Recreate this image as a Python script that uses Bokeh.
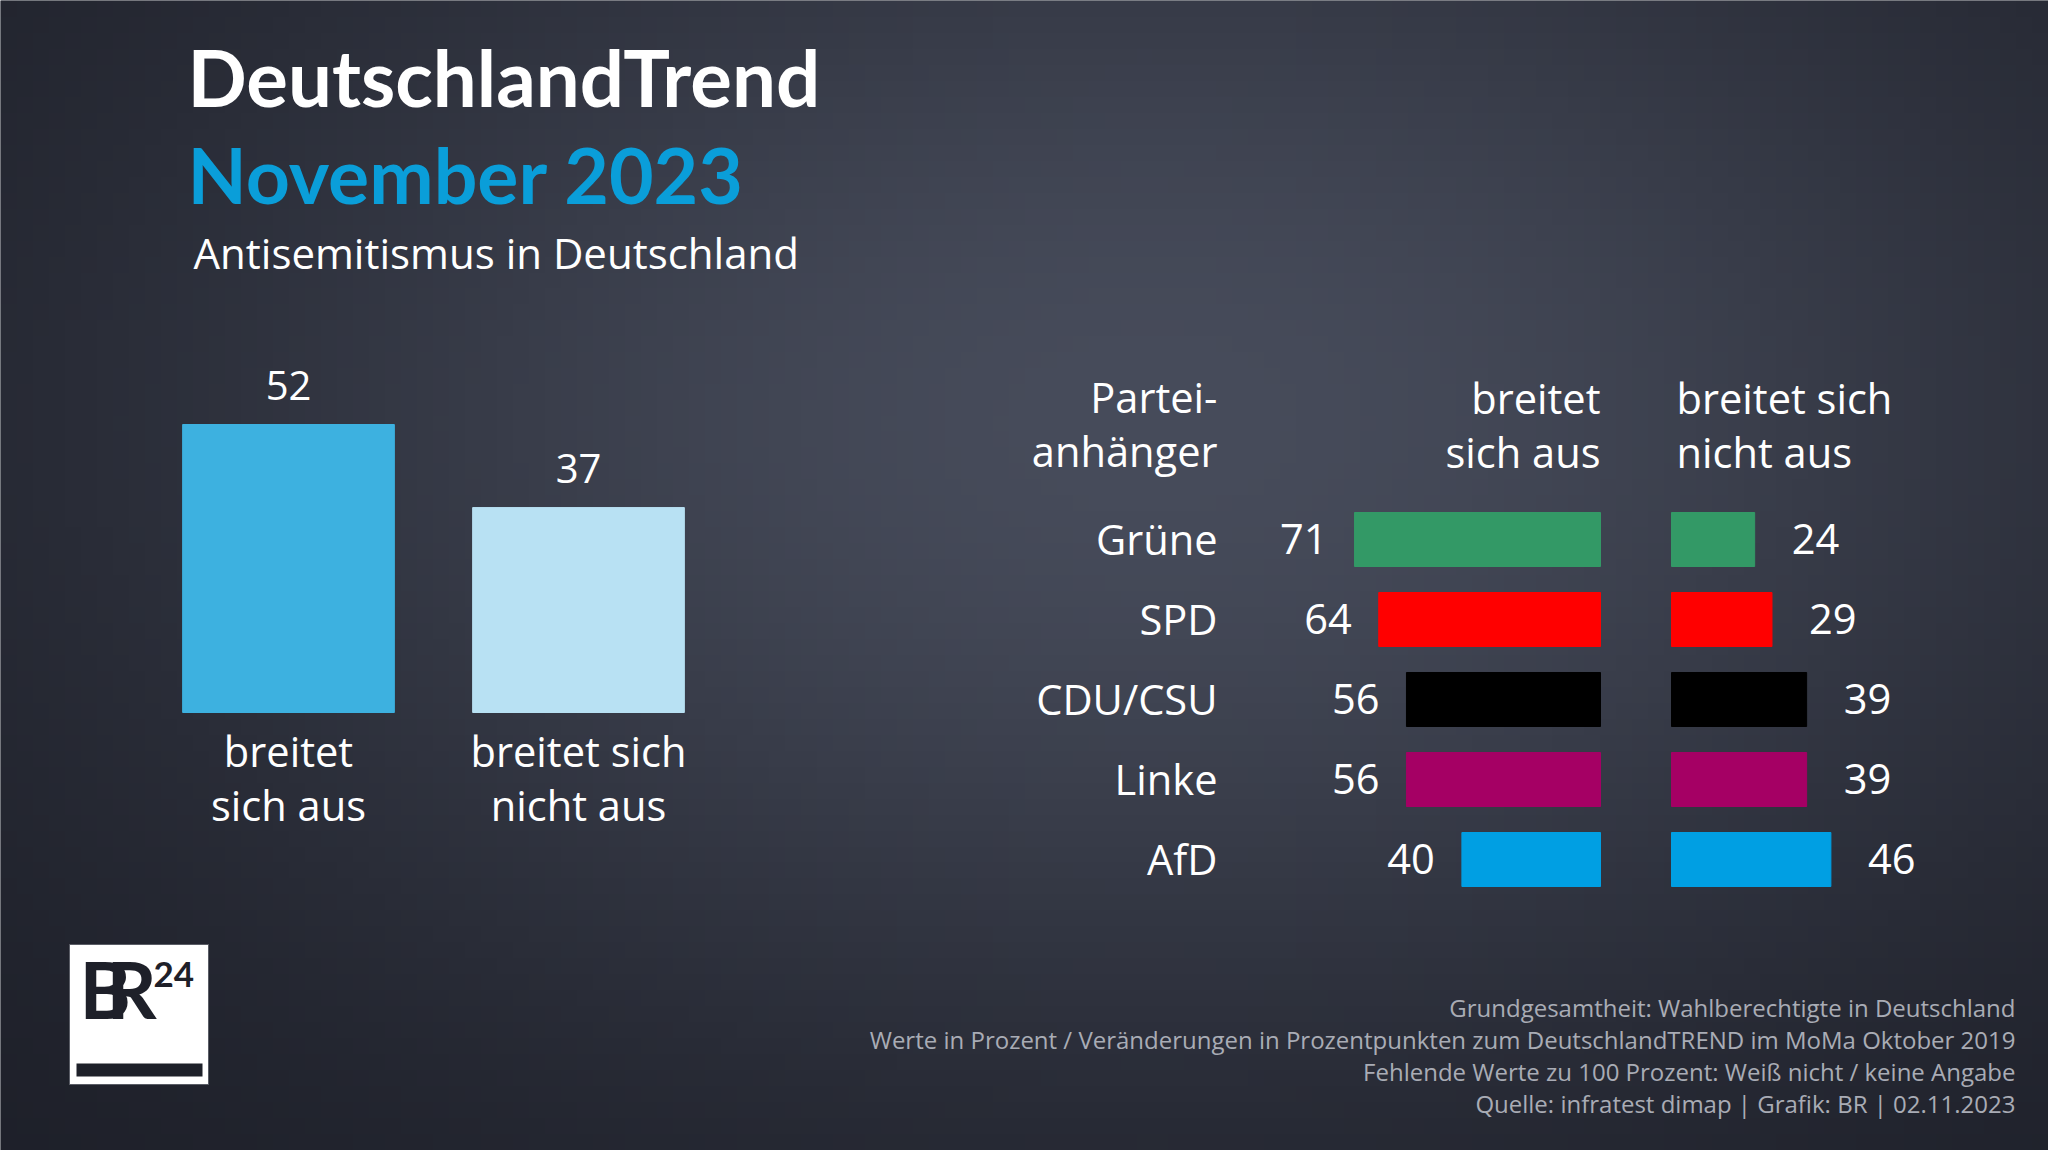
import numpy as np
from bokeh.plotting import figure
from bokeh.models import Range1d, ColumnDataSource
from bokeh.core.properties import value
from bokeh.embed import file_html
from bokeh.resources import INLINE

# ---------------- data ----------------
title = "DeutschlandTrend"
subtitle = "November 2023"
topic = "Antisemitismus in Deutschland"

overall_categories = ["breitet\nsich aus", "breitet sich\nnicht aus"]
overall_values = [52, 37]
overall_colors = ["#3db1e0", "#b8e1f3"]

parties = ["Grüne", "SPD", "CDU/CSU", "Linke", "AfD"]
spreads = [71, 64, 56, 56, 40]
not_spreads = [24, 29, 39, 39, 46]
party_colors = ["#339966", "#ff0000", "#000000", "#a50064", "#009fe3"]

party_header = "Partei-\nanhänger"
col_header_left = "breitet\nsich aus"
col_header_right = "breitet sich\nnicht aus"

footer_lines = [
    "Grundgesamtheit: Wahlberechtigte in Deutschland",
    "Werte in Prozent / Veränderungen in Prozentpunkten zum DeutschlandTREND im MoMa Oktober 2019",
    "Fehlende Werte zu 100 Prozent: Weiß nicht / keine Angabe",
    "Quelle: infratest dimap | Grafik: BR | 02.11.2023",
]

BOLD_FONT = "Lato"
FONT = "Open Sans"
WHITE = "#ffffff"
K = 0.37  # baseline correction (fraction of font size)

# ---------------- figure ----------------
W, H = 2048, 1150
p = figure(width=W, height=H, x_range=Range1d(0, W), y_range=Range1d(0, H),
           output_backend="svg", toolbar_location=None, min_border=0,
           x_axis_type=None, y_axis_type=None)
p.grid.visible = False
p.outline_line_color = None
p.background_fill_color = "#262a35"
p.border_fill_color = "#262a35"


def Y(page_y):
    return H - page_y


def BL(page_y, fs):
    """data y for a text whose alphabetic baseline should sit at page_y"""
    return Y(page_y - K * fs)


# background gradient (styling only)
gh, gw = 72, 128
gx = np.linspace(0, W, gw)
gy = np.linspace(H, 0, gh)  # row 0 = bottom
XX, YY = np.meshgrid(gx, gy)
d2 = ((XX - 1150) / 1150.0) ** 2 + ((YY - 420) / 720.0) ** 2
t = np.exp(-1.25 * d2)
light = np.array([0x47, 0x4c, 0x5b], dtype=float)
dark = np.array([0x1b, 0x1d, 0x26], dtype=float)
img = np.empty((gh, gw), dtype=np.uint32)
view = img.view(dtype=np.uint8).reshape((gh, gw, 4))
for k in range(3):
    view[:, :, k] = (dark[k] + (light[k] - dark[k]) * t).astype(np.uint8)
view[:, :, 3] = 255
p.image_rgba(image=[img], x=0, y=0, dw=W, dh=H)

# ---------------- scales ----------------
LPX = 288.0 / 52.0          # px per percent, left column chart
LBASE = 712                 # page y of zero line
LX0, LDX = 288.0, 290.0     # page x of first category, spacing
RPX = 3.465                 # px per percent, party bars
RL0, RR0 = 1600.0, 1671.0   # zero lines of the two bar groups
ROW0, ROWD = 539.0, 80.0    # first row centre, row spacing

p.extra_y_ranges = {
    "lv": Range1d((LBASE - H) / LPX, LBASE / LPX),
    "rows": Range1d((H - ROW0) / ROWD, (0 - ROW0) / ROWD),
}
p.extra_x_ranges = {
    "lx": Range1d((0 - LX0) / LDX, (W - LX0) / LDX),
    "rl": Range1d(RL0 / RPX, (RL0 - W) / RPX),
    "rr": Range1d((0 - RR0) / RPX, (W - RR0) / RPX),
}

# ---------------- titles ----------------
p.text(x=[187], y=[BL(105, 78)], text=[title], text_font=value(BOLD_FONT), text_font_style="bold",
       text_font_size="78px", text_color=WHITE, text_baseline="alphabetic")
p.text(x=[187], y=[BL(202, 77)], text=[subtitle], text_font=value(BOLD_FONT), text_font_style="bold",
       text_font_size="77px", text_color="#0a9ed9", text_baseline="alphabetic")
p.text(x=[193], y=[BL(268, 42)], text=[topic], text_font=value(FONT),
       text_font_size="42px", text_color=WHITE, text_baseline="alphabetic")

# ---------------- left column chart ----------------
FS = 41.6
idx = list(range(len(overall_values)))
lsrc = ColumnDataSource(dict(
    x=idx, top=overall_values, color=overall_colors,
    lab=[str(v) for v in overall_values],
    l1=[c.split("\n")[0] for c in overall_categories],
    l2=[c.split("\n")[1] for c in overall_categories],
    y1=[BL(766, FS)] * len(idx), y2=[BL(820, FS)] * len(idx),
))
p.vbar(x="x", top="top", bottom=0, width=0.73, color="color", source=lsrc,
       x_range_name="lx", y_range_name="lv")
p.text(x="x", y="top", text="lab", source=lsrc, x_range_name="lx", y_range_name="lv",
       text_align="center", text_baseline="alphabetic", y_offset=-24 - K * 40,
       text_font=value(FONT), text_font_size="40px", text_color=WHITE)
for col in ("1", "2"):
    p.text(x="x", y="y" + col, text="l" + col, source=lsrc, x_range_name="lx",
           text_align="center", text_baseline="alphabetic",
           text_font=value(FONT), text_font_size=f"{FS}px", text_color=WHITE)

# ---------------- party bars ----------------
rows = list(range(len(parties)))
rsrc = ColumnDataSource(dict(
    row=rows, party=parties, a=spreads, b=not_spreads, color=party_colors,
    alab=[str(v) for v in spreads], blab=[str(v) for v in not_spreads],
    px=[1217] * len(rows),
))
p.hbar(y="row", left=0, right="a", height=0.675, color="color", source=rsrc,
       x_range_name="rl", y_range_name="rows")
p.hbar(y="row", left=0, right="b", height=0.675, color="color", source=rsrc,
       x_range_name="rr", y_range_name="rows")
ROFF = 14.5 - K * FS
p.text(x="px", y="row", text="party", source=rsrc, y_range_name="rows",
       text_align="right", text_baseline="alphabetic", y_offset=ROFF,
       text_font=value(FONT), text_font_size=f"{FS}px", text_color=WHITE)
p.text(x="a", y="row", text="alab", source=rsrc, x_range_name="rl", y_range_name="rows",
       text_align="right", text_baseline="alphabetic", x_offset=-27, y_offset=ROFF,
       text_font=value(FONT), text_font_size=f"{FS}px", text_color=WHITE)
p.text(x="b", y="row", text="blab", source=rsrc, x_range_name="rr", y_range_name="rows",
       text_align="left", text_baseline="alphabetic", x_offset=37, y_offset=ROFF,
       text_font=value(FONT), text_font_size=f"{FS}px", text_color=WHITE)

# headers
hl = party_header.split("\n")
p.text(x=[1217, 1217], y=[BL(412, FS), BL(466, FS)], text=hl, text_align="right",
       text_baseline="alphabetic", text_font=value(FONT), text_font_size=f"{FS}px", text_color=WHITE)
cl = col_header_left.split("\n")
p.text(x=[1600, 1600], y=[BL(413, FS), BL(467, FS)], text=cl, text_align="right",
       text_baseline="alphabetic", text_font=value(FONT), text_font_size=f"{FS}px", text_color=WHITE)
cr = col_header_right.split("\n")
p.text(x=[1676, 1676], y=[BL(413, FS), BL(467, FS)], text=cr, text_align="left",
       text_baseline="alphabetic", text_font=value(FONT), text_font_size=f"{FS}px", text_color=WHITE)

# ---------------- footer ----------------
FF = 24.0
p.text(x=[2015] * 4, y=[BL(1016, FF), BL(1048, FF), BL(1080, FF), BL(1112, FF)], text=footer_lines,
       text_align="right", text_baseline="alphabetic", text_font=value(FONT),
       text_font_size=f"{FF}px", text_color="#a9acb5")

# ---------------- logo ----------------
p.quad(left=[69], right=[208], bottom=[Y(1084)], top=[Y(944)], fill_color="#ffffff",
       line_color="#5a5d66", line_width=1)
p.quad(left=[76], right=[202], bottom=[Y(1076)], top=[Y(1063)], fill_color="#1e2029",
       line_color=None)
p.text(x=[79, 106], y=[BL(1017, 78)] * 2, text=["B", "R"], text_font=value(BOLD_FONT),
       text_font_style="bold", text_font_size="78px", text_color="#1e2029",
       text_baseline="alphabetic")
p.text(x=[153], y=[BL(987, 35)], text=["24"], text_font=value(BOLD_FONT), text_font_style="bold",
       text_font_size="35px", text_color="#1e2029", text_baseline="alphabetic")

open("out.html", "w").write(file_html(p, INLINE))
